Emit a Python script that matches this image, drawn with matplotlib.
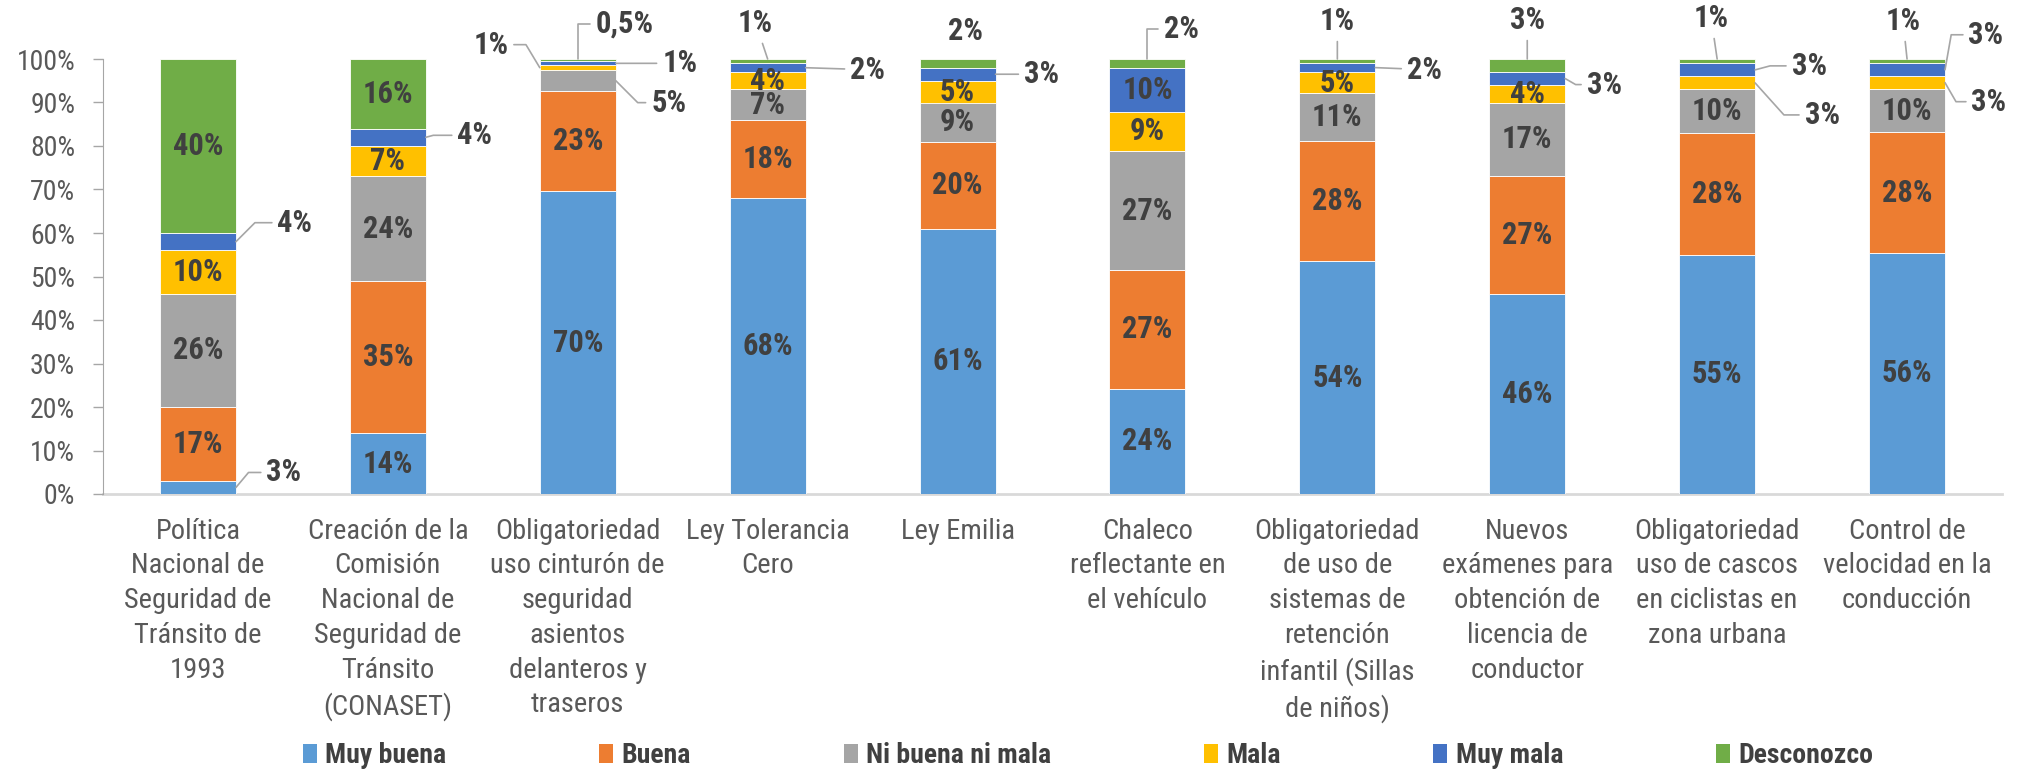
import matplotlib
matplotlib.use("Agg")
import matplotlib.pyplot as plt
from matplotlib.patches import Patch
from matplotlib import font_manager

# categories (x axis)
categories = [
    "Política\nNacional de\nSeguridad de\nTránsito de\n1993",
    "Creación de la\nComisión\nNacional de\nSeguridad de\nTránsito\n(CONASET)",
    "Obligatoriedad\nuso cinturón de\nseguridad\nasientos\ndelanteros y\ntraseros",
    "Ley Tolerancia\nCero",
    "Ley Emilia",
    "Chaleco\nreflectante en\nel vehículo",
    "Obligatoriedad\nde uso de\nsistemas de\nretención\ninfantil (Sillas\nde niños)",
    "Nuevos\nexámenes para\nobtención de\nlicencia de\nconductor",
    "Obligatoriedad\nuso de cascos\nen ciclistas en\nzona urbana",
    "Control de\nvelocidad en la\nconducción",
]
series = ["Muy buena", "Buena", "Ni buena ni mala", "Mala", "Muy mala", "Desconozco"]

muy_buena = [3, 14, 70, 68, 61, 24, 54, 46, 55, 56]
buena = [17, 35, 23, 18, 20, 27, 28, 27, 28, 28]
ni_buena = [26, 24, 5, 7, 9, 27, 11, 17, 10, 10]
mala = [10, 7, 1, 4, 5, 9, 5, 4, 3, 3]
muy_mala = [4, 4, 1, 2, 3, 10, 2, 3, 3, 3]
desconozco = [40, 16, 0.5, 1, 2, 2, 1, 3, 1, 1]
values = [muy_buena, buena, ni_buena, mala, muy_mala, desconozco]

colors = ["#5B9BD5", "#ED7D31", "#A5A5A5", "#FFC000", "#4472C4", "#70AD47"]

# labels drawn outside the bar with a leader line:
# (category, series, anchor, text dx px, text dy px, leader angle at the bar)
outside = [
    (0, 0, "r", 48, 15, 50),
    (0, 4, "r", 59, 19, 45),
    (1, 4, "r", 49, 2, 15),
    (2, 3, "l", -49, 23, 121),
    (2, 5, "t", 47, 35, 90),
    (2, 4, "r", 64, 0, None),
    (2, 2, "r", 53, -22, -45),
    (3, 5, "t", -12, 36, None),
    (3, 4, "r", 62, -2, None),
    (4, 5, "t", 8, 28, "no"),
    (4, 4, "r", 46, 0, None),
    (5, 5, "t", 34, 30, 90),
    (6, 5, "t", 0, 38, None),
    (6, 4, "r", 49, -2, None),
    (7, 5, "t", 0, 39, None),
    (7, 4, "r", 39, -6, -30),
    (8, 5, "t", -6, 41, None),
    (8, 4, "r", 54, 4, 15),
    (8, 3, "r", 67, -32, -48),
    (9, 5, "t", -4, 38, None),
    (9, 4, "r", 41, 35, 80),
    (9, 3, "r", 44, -19, -60),
]

available = {f.name for f in font_manager.fontManager.ttflist}
fam = "DejaVu Sans"
for f in ["Liberation Sans Narrow", "Roboto Condensed", "Lato", "Liberation Sans"]:
    if f in available:
        fam = f
        break
plt.rcParams["font.family"] = [fam, "DejaVu Sans"]

lab_color = "#404040"
tick_color = "#595959"
line_color = "#A6A6A6"
lab_size = 22

def fmt(v):
    if float(v).is_integer():
        return "%d%%" % v
    return ("%g%%" % v).replace(".", ",")

fig = plt.figure(figsize=(20.24, 7.71), dpi=100)
ax = fig.add_axes([103 / 2024, 277 / 771, 1899 / 2024, 435 / 771])

n = len(categories)
width = 0.4
totals = [sum(v[i] for v in values) for i in range(n)]
bottoms = [0.0] * n
segs = {}
for j, vals in enumerate(values):
    h = [vals[i] / totals[i] * 100 for i in range(n)]
    ax.bar(range(n), h, width, bottom=bottoms, color=colors[j],
           edgecolor="white", linewidth=0.6, label=series[j], zorder=2)
    for i in range(n):
        segs[(i, j)] = (bottoms[i], h[i])
    bottoms = [bottoms[i] + h[i] for i in range(n)]

out_keys = {(o[0], o[1]) for o in outside}
for (i, j), (b, h) in segs.items():
    if (i, j) in out_keys:
        continue
    ax.text(i, b + h / 2, fmt(values[j][i]), ha="center", va="center",
            fontsize=lab_size, fontweight="bold", color=lab_color, zorder=3)

for i, j, side, dx, dy, ang in outside:
    b, h = segs[(i, j)]
    if side == "r":
        xy = (i + width / 2, b + h / 2)
    elif side == "l":
        xy = (i - width / 2, b + h / 2)
    else:
        xy = (i, b + h)
    if ang == "no":
        props = None
    elif ang is None:
        props = dict(arrowstyle="-", color=line_color, lw=1.2, shrinkB=0,
                     connectionstyle="arc3")
    else:
        props = dict(arrowstyle="-", color=line_color, lw=1.2, shrinkB=0,
                     connectionstyle="angle,angleA=0,angleB=%g,rad=0" % ang)
    ax.annotate(fmt(values[j][i]), xy=xy, xycoords="data", xytext=(dx, dy),
                textcoords="offset pixels", ha="center", va="center",
                fontsize=lab_size, fontweight="bold", color=lab_color,
                arrowprops=props, annotation_clip=False, zorder=3)

ax.set_xlim(-0.5, n - 0.5)
ax.set_ylim(0, 100)
ax.set_yticks(range(0, 101, 10))
ax.set_yticklabels(["%d%%" % t for t in range(0, 101, 10)])
ax.set_xticks(range(n))
ax.set_xticklabels(categories, linespacing=1.37)
ax.tick_params(axis="x", length=0, pad=17, labelsize=20.5, colors=tick_color)
ax.tick_params(axis="y", length=7, width=1, color=line_color, pad=13,
               labelsize=20, labelcolor=tick_color)
for s in ["top", "right"]:
    ax.spines[s].set_visible(False)
ax.spines["left"].set_color(line_color)
ax.spines["bottom"].set_color("#D9D9D9")
ax.spines["bottom"].set_linewidth(2)
ax.spines["bottom"].set_zorder(1)

handles = [Patch(facecolor=c) for c in colors]
fig.legend(handles, series, loc="center", bbox_to_anchor=(0.5376, 0.02),
           ncol=6, frameon=False, prop=dict(weight="bold", size=20),
           labelcolor=lab_color, columnspacing=5.5, handlelength=0.5,
           handleheight=0.7, handletextpad=0.3)

plt.savefig("out.png", dpi=100)
